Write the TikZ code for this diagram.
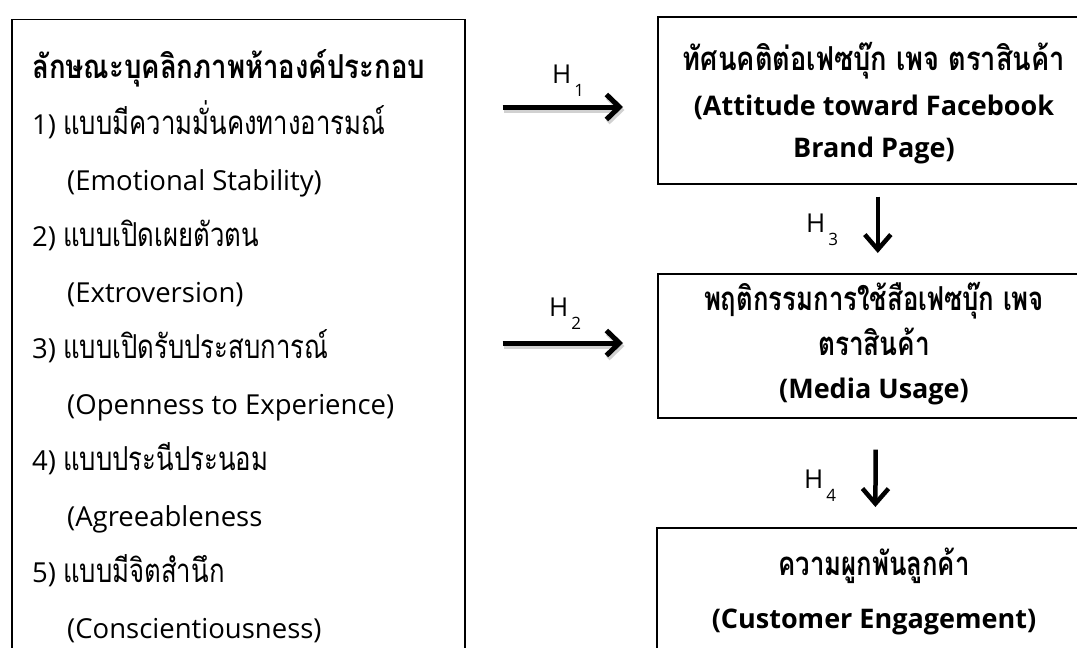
\documentclass[tikz,border=0pt]{standalone}
\usepackage{fontspec}
\usepackage{graphicx}
\setmainfont{Open Sans}
\newfontfamily\thai[Script=Thai, FakeStretch=0.78]{Loma}
\newcommand\thaiT{\fontsize{33}{36}\selectfont\thai}
\usetikzlibrary{arrows.meta}
\begin{document}
\begin{tikzpicture}[x=1pt,y=-1pt,
  box/.style={draw=black, line width=1.6pt, rectangle, inner sep=0pt, anchor=north west},
  txt/.style={inner sep=0pt, anchor=base west, font=\fontsize{27.5}{32}\selectfont},
  btxt/.style={inner sep=0pt, anchor=base, font=\fontsize{27}{32}\selectfont\bfseries},
  hlab/.style={inner sep=0pt, anchor=base west, font=\fontsize{26}{30}\selectfont},
  harr/.style={line width=5pt, -{Straight Barb[length=13pt,width=25pt]},
    preaction={draw=black!18, line width=5pt, -{Straight Barb[length=13pt,width=25pt]},
      transform canvas={shift={(1.5pt,-3pt)}}}},
  varr/.style={line width=4.5pt, -{Straight Barb[length=15pt,width=26pt]}},
]
\useasboundingbox (0,0) rectangle (1077,648);
\clip (0,0) rectangle (1077,648);

% boxes
\node[box, minimum width=453pt, minimum height=660pt] (pers) at (11,18.6) {};
\node[box, minimum width=434pt, minimum height=167pt] (att) at (657,16) {};
\node[box, minimum width=434pt, minimum height=144pt] (use) at (657,273) {};
\node[box, minimum width=435pt, minimum height=200pt] (eng) at (656,527) {};

% left box text
\node[txt, font=\thaiT\bfseries] (t0) at (32,78.5) {\resizebox{393pt}{\height}{ลักษณะบุคลิกภาพห้าองค์ประกอบ}};
\node[txt] (t1) at (32,134.5) {1) {\thaiT แบบมีความมั่นคงทางอารมณ์}};
\node[txt] (t2) at (67,190.5) {(Emotional Stability)};
\node[txt] (t3) at (32,246.5) {2) {\thaiT แบบเปิดเผยตัวตน}};
\node[txt] (t4) at (67,302.5) {(Extroversion)};
\node[txt] (t5) at (32,358.5) {3) {\thaiT แบบเปิดรับประสบการณ์}};
\node[txt] (t6) at (67,414.5) {(Openness to Experience)};
\node[txt] (t7) at (32,470.5) {4) {\thaiT แบบประนีประนอม}};
\node[txt] (t8) at (67,526.5) {(Agreeableness};
\node[txt] (t9) at (32,582.5) {5) {\thaiT แบบมีจิตสำนึก}};
\node[txt] (t10) at (67,638.5) {(Conscientiousness)};

% right box texts
\node[btxt, font=\thaiT\bfseries] (a1t) at (874,70) {\resizebox{382pt}{\height}{ทัศนคติต่อเฟซบุ๊ก เพจ ตราสินค้า}};
\node[btxt] (a2t) at (874,115) {(Attitude toward Facebook};
\node[btxt] (a3t) at (874,157) {Brand Page)};
\node[btxt, font=\thaiT\bfseries] (u1t) at (874,310) {พฤติกรรมการใช้สือเฟซบุ๊ก เพจ};
\node[btxt, font=\thaiT\bfseries] (u2t) at (874,355) {\resizebox{112pt}{\height}{ตราสินค้า}};
\node[btxt] (u3t) at (874,398) {(Media Usage)};
\node[btxt, font=\thaiT\bfseries] (e1t) at (874,575) {ความผูกพันลูกค้า};
\node[btxt] (e2t) at (874,628) {(Customer Engagement)};

% connectors
\coordinate (y1) at (0,107);
\coordinate (y2) at (0,343);
\draw[harr, shorten <=37pt, shorten >=34pt] (pers.east |- y1) -- (att.west |- y1);
\draw[harr, shorten <=37pt, shorten >=34pt] (pers.east |- y2) -- (use.west |- y2);
\draw[varr, shorten <=12pt, shorten >=20pt] ([xshift=3pt]att.south) -- ([xshift=3pt]use.north);
\draw[varr, shorten <=31pt, shorten >=20pt] ([xshift=1pt]use.south) -- ([xshift=1pt]eng.north);

% labels
\node[hlab] (h1) at (552,83) {H\kern3pt\raisebox{-13pt}{\fontsize{17}{17}\selectfont 1}};
\node[hlab] (h2) at (549,316) {H\kern3pt\raisebox{-13pt}{\fontsize{17}{17}\selectfont 2}};
\node[hlab] (h3) at (806,232) {H\kern3pt\raisebox{-13pt}{\fontsize{17}{17}\selectfont 3}};
\node[hlab] (h4) at (804,488) {H\kern3pt\raisebox{-13pt}{\fontsize{17}{17}\selectfont 4}};
\end{tikzpicture}
\end{document}
